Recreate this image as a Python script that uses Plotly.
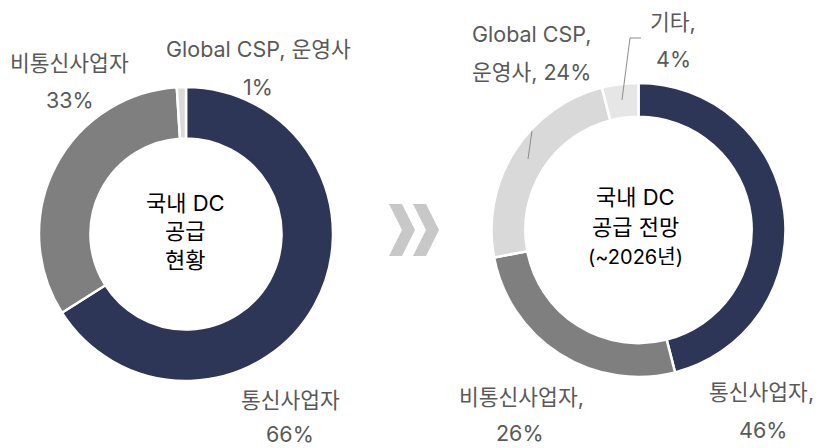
import plotly.graph_objects as go

# Data
current_labels = ["통신사업자", "비통신사업자", "Global CSP, 운영사"]
current_values = [66, 33, 1]
current_colors = ["#2E3658", "#7F7F7F", "#D9D9D9"]

future_labels = ["통신사업자", "비통신사업자", "Global CSP, 운영사", "기타"]
future_values = [46, 26, 24, 4]
future_colors = ["#2E3658", "#7F7F7F", "#D9D9D9", "#E6E6E6"]

W, H = 819, 448
FONT = "Inter, Noto Sans CJK KR"
LABEL_COLOR = "#595959"

def px(x):
    return x / W

def py(y):
    return 1 - y / H

fig = go.Figure()

fig.add_trace(go.Pie(
    labels=current_labels, values=current_values, sort=False, direction="clockwise",
    rotation=0, hole=0.65, textinfo="none", hoverinfo="label+percent",
    marker=dict(colors=current_colors, line=dict(color="white", width=2.5)),
    domain=dict(x=[px(186 - 147), px(186 + 147)], y=[py(234 + 147), py(234 - 147)]),
    showlegend=False,
))

fig.add_trace(go.Pie(
    labels=future_labels, values=future_values, sort=False, direction="clockwise",
    rotation=0, hole=0.77, textinfo="none", hoverinfo="label+percent",
    marker=dict(colors=future_colors, line=dict(color="white", width=2.5)),
    domain=dict(x=[px(638.5 - 147), px(638.5 + 147)], y=[py(230 + 147), py(230 - 147)]),
    showlegend=False,
))

annotations = []

def add_text(text, x, y, size=21.5, color=LABEL_COLOR):
    annotations.append(dict(
        text=text, x=px(x), y=py(y), xref="paper", yref="paper",
        showarrow=False, xanchor="center", yanchor="middle",
        font=dict(family=FONT, size=size, color=color),
    ))

# Left donut labels
add_text(current_labels[2], 258, 49)
add_text(f"{current_values[2]}%", 258, 87)
add_text(current_labels[1], 69, 63)
add_text(f"{current_values[1]}%", 70, 100)
add_text(current_labels[0], 290, 400)
add_text(f"{current_values[0]}%", 290, 434)

# Right donut labels
g1, g2 = future_labels[2].split(", ")
add_text(g1 + ",", 531, 34)
add_text(f"{g2}, {future_values[2]}%", 531, 72)
add_text(future_labels[3] + ",", 673, 22)
add_text(f"{future_values[3]}%", 673, 59)
add_text(future_labels[1] + ",", 521, 397)
add_text(f"{future_values[1]}%", 520, 433)
add_text(future_labels[0] + ",", 761, 392)
add_text(f"{future_values[0]}%", 763, 430)

# Center texts
add_text("국내 DC", 185, 203, size=22, color="#000000")
add_text("공급", 185, 231, size=22, color="#000000")
add_text("현황", 185, 260, size=22, color="#000000")
add_text("국내 DC", 635, 197, size=22, color="#000000")
add_text("공급 전망", 635, 227, size=22, color="#000000")
add_text("(~2026년)", 635, 257, size=20, color="#000000")

shapes = []

def path(points, fill=None, line=None):
    d = "M " + " L ".join(f"{px(x):.5f},{py(y):.5f}" for x, y in points)
    if fill:
        d += " Z"
    s = dict(type="path", path=d, xref="paper", yref="paper")
    if fill:
        s.update(fillcolor=fill, line=dict(width=0))
    else:
        s.update(line=line)
    shapes.append(s)

# Chevrons
for dx in (0, 24):
    path([(389 + dx, 204), (402 + dx, 204), (415 + dx, 230), (402 + dx, 256),
          (389 + dx, 256), (402 + dx, 230)], fill="#C8C8C8")

# Leader lines
path([(641, 38), (630, 38), (622, 100)], line=dict(color="#8C8C8C", width=1))
path([(532, 131), (528, 159)], line=dict(color="#8C8C8C", width=1))

fig.update_layout(
    width=W, height=H, margin=dict(l=0, r=0, t=0, b=0),
    paper_bgcolor="white", plot_bgcolor="white",
    annotations=annotations, shapes=shapes,
    font=dict(family=FONT),
)

fig.write_html("out.html", config={"displayModeBar": False},
               post_script="document.body.style.margin='0';")
